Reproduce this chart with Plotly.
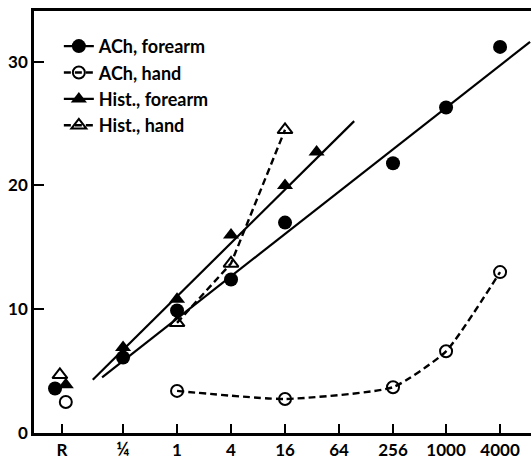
import plotly.graph_objects as go

# x values are concentrations (R = resting/control placed left of 1/4 on the log axis)
tick_vals = [0.052, 0.25, 1, 4, 16, 64, 256, 1000, 4000]
tick_text = ["R", "<span style='font-size:18px'>¼</span>", "1", "4", "16", "64", "256", "1000", "4000"]

ach_fore_x = [0.0436, 0.25, 1, 4, 16, 256, 1000, 4000]
ach_fore_y = [3.6, 6.1, 9.9, 12.4, 17.0, 21.8, 26.3, 31.2]

ach_hand_R_x = [0.0575]
ach_hand_R_y = [2.5]
ach_hand_x = [1, 16, 256, 1000, 4000]
ach_hand_y = [3.4, 2.75, 3.7, 6.6, 13.0]

hist_fore_x = [0.0575, 0.25, 1, 4, 16, 36]
hist_fore_y = [3.9, 6.9, 10.8, 16.0, 20.0, 22.7]

hist_hand_R_x = [0.0494]
hist_hand_R_y = [4.7]
hist_hand_x = [1, 4, 16]
hist_hand_y = [8.9, 13.7, 24.5]

# fitted regression lines (endpoints)
ach_fit_x = [0.146, 8640]
ach_fit_y = [4.5, 31.6]
hist_fit_x = [0.115, 94.5]
hist_fit_y = [4.3, 25.2]

series_names = ["ACh, forearm", "ACh, hand", "Hist., forearm", "Hist., hand"]

BLACK = "#000000"
SOLID = dict(color=BLACK, width=2.2)
DASHED = dict(color=BLACK, width=2.4, dash="7px,4px")
M_FC = dict(symbol="circle", size=14, color=BLACK)
M_OC = dict(symbol="circle-open", size=12, color=BLACK, line=dict(width=2))
M_FT = dict(symbol="triangle-up", size=14, color=BLACK)
M_OT = dict(symbol="triangle-up-open", size=13, color=BLACK, line=dict(width=2))

fig = go.Figure()

# regression lines
fig.add_trace(go.Scatter(x=ach_fit_x, y=ach_fit_y, mode="lines", line=SOLID,
                         showlegend=False, hoverinfo="skip"))
fig.add_trace(go.Scatter(x=hist_fit_x, y=hist_fit_y, mode="lines", line=SOLID,
                         showlegend=False, hoverinfo="skip"))
# dashed connections
fig.add_trace(go.Scatter(x=ach_hand_x, y=ach_hand_y, mode="lines",
                         line=dict(DASHED, shape="spline", smoothing=0.5),
                         showlegend=False, hoverinfo="skip"))
fig.add_trace(go.Scatter(x=hist_hand_x, y=hist_hand_y, mode="lines", line=DASHED,
                         showlegend=False, hoverinfo="skip"))

# markers
fig.add_trace(go.Scatter(x=ach_fore_x, y=ach_fore_y, mode="markers", marker=M_FC,
                         name=series_names[0], showlegend=False))
fig.add_trace(go.Scatter(x=ach_hand_R_x + ach_hand_x, y=ach_hand_R_y + ach_hand_y, mode="markers",
                         marker=M_OC, name=series_names[1], showlegend=False))
fig.add_trace(go.Scatter(x=hist_fore_x, y=hist_fore_y, mode="markers", marker=M_FT,
                         name=series_names[2], showlegend=False))
fig.add_trace(go.Scatter(x=hist_hand_R_x + hist_hand_x, y=hist_hand_R_y + hist_hand_y, mode="markers",
                         marker=M_OT, name=series_names[3], showlegend=False))

# legend entries (line + marker symbols)
for i, (nm, ln, mk) in enumerate(zip(series_names, [SOLID, DASHED, SOLID, DASHED],
                                     [M_FC, M_OC, M_FT, M_OT])):
    fig.add_trace(go.Scatter(x=[None], y=[None], mode="lines+markers", name=nm,
                             line=ln, marker=mk, legendgroup=str(i)))

fig.update_layout(
    width=531, height=459,
    margin=dict(l=34, r=0, t=11, b=26),
    paper_bgcolor="white", plot_bgcolor="white",
    font=dict(family="Lato", size=17, color=BLACK, weight="bold"),
    showlegend=True,
    legend=dict(x=0.05, y=0.96, xanchor="left", yanchor="top",
                bgcolor="rgba(0,0,0,0)", tracegroupgap=0,
                font=dict(family="Lato", size=18, weight="bold")),
    xaxis=dict(type="log", range=[-1.595, 3.947], automargin=False,
               tickvals=tick_vals, ticktext=tick_text,
               ticks="inside", ticklen=9, tickwidth=2, tickcolor=BLACK,
               showline=True, linewidth=2.5, linecolor=BLACK, mirror=True,
               showgrid=False, zeroline=False),
    yaxis=dict(range=[0, 34.1], tickvals=[0, 10, 20, 30], automargin=False,
               ticks="inside", ticklen=10, tickwidth=2, tickcolor=BLACK,
               showline=True, linewidth=2.5, linecolor=BLACK, mirror=False,
               showgrid=False, zeroline=False),
)

fig.write_html("out.html", config={"displayModeBar": False},
               post_script="document.body.style.margin='0';document.body.style.overflow='hidden';")
